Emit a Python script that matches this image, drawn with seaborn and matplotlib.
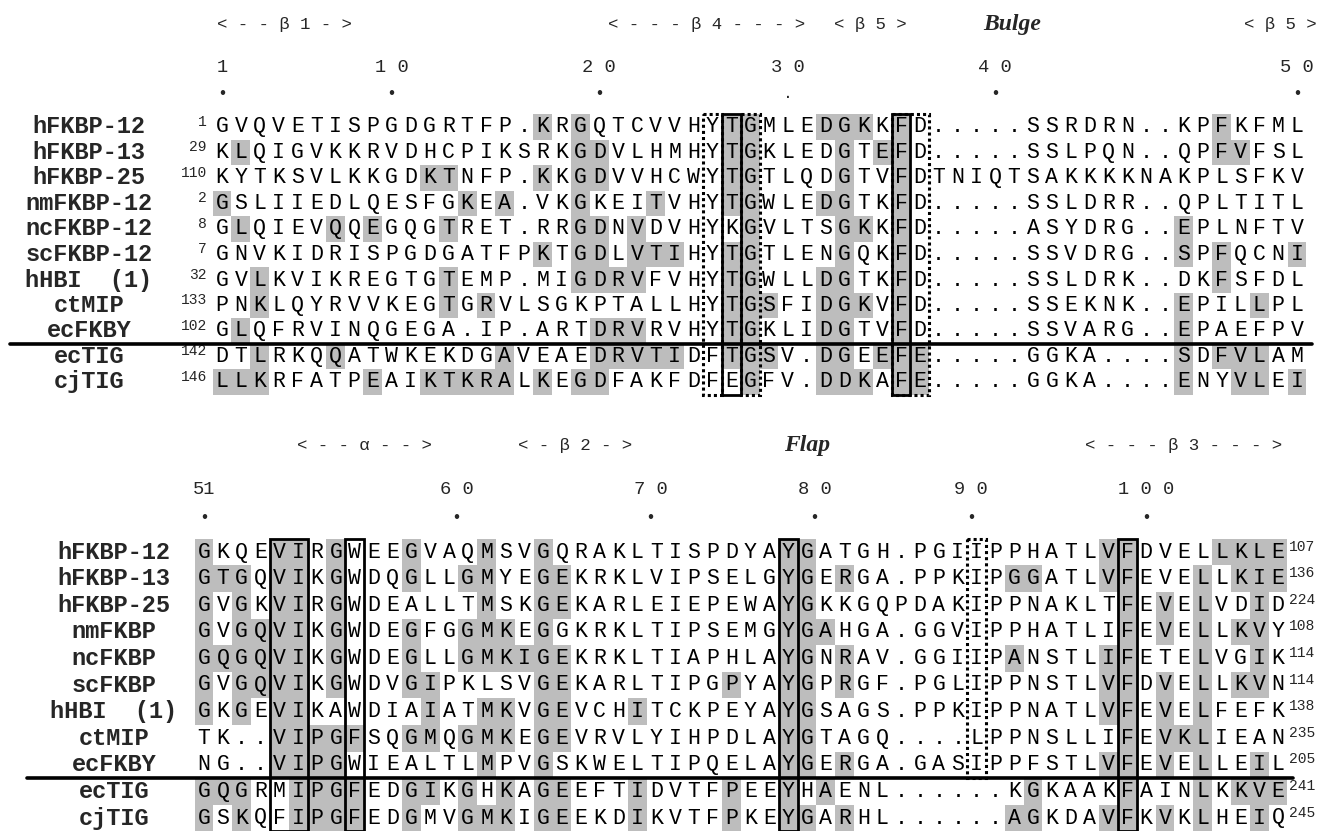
import numpy as np
import matplotlib
matplotlib.use('Agg')
import matplotlib.pyplot as plt
import seaborn as sns
from matplotlib.colors import ListedColormap
from matplotlib.patches import Rectangle

# ---- top block (residues 1-50 of hFKBP-12) ----
names_top = ['hFKBP-12', 'hFKBP-13', 'hFKBP-25', 'nmFKBP-12', 'ncFKBP-12', 'scFKBP-12',
             'hHBI  (1)', 'ctMIP', 'ecFKBY', 'ecTIG', 'cjTIG']
starts_top = ['1', '29', '110', '2', '8', '7', '32', '133', '102', '142', '146']
seqs_top = [
    'GVQVETISPGDGRTFP.KRGQTCVVHYTGMLEDGKKFD.....SSRDRN..KPFKFML',
    'KLQIGVKKRVDHCPIKSRKGDVLHMHYTGKLEDGTEFD.....SSLPQN..QPFVFSL',
    'KYTKSVLKKGDKTNFP.KKGDVVHCWYTGTLQDGTVFDTNIQTSAKKKKNAKPLSFKV',
    'GSLIIEDLQESFGKEA.VKGKEITVHYTGWLEDGTKFD.....SSLDRR..QPLTITL',
    'GLQIEVQQEGQGTRET.RRGDNVDVHYKGVLTSGKKFD.....ASYDRG..EPLNFTV',
    'GNVKIDRISPGDGATFPKTGDLVTIHYTGTLENGQKFD.....SSVDRG..SPFQCNI',
    'GVLKVIKREGTGTEMP.MIGDRVFVHYTGWLLDGTKFD.....SSLDRK..DKFSFDL',
    'PNKLQYRVVKEGTGRVLSGKPTALLHYTGSFIDGKVFD.....SSEKNK..EPILLPL',
    'GLQFRVINQGEGA.IP.ARTDRVRVHYTGKLIDGTVFD.....SSVARG..EPAEFPV',
    'DTLRKQQATWKEKDGAVEAEDRVTIDFTGSV.DGEEFE.....GGKA....SDFVLAM',
    'LLKRFATPEAIKTKRALKEGDFAKFDFEGFV.DDKAFE.....GGKA....ENYVLEI',
]
shade_top = [
    [18, 20, 28, 29, 33, 34, 35, 37, 54],
    [2, 20, 21, 28, 29, 34, 36, 37, 54, 55],
    [12, 13, 18, 20, 21, 28, 29, 34, 37],
    [1, 14, 16, 20, 24, 28, 29, 33, 34, 37],
    [2, 7, 9, 13, 20, 21, 23, 29, 34, 35, 37, 52],
    [18, 20, 21, 23, 24, 25, 28, 29, 34, 37, 52, 54, 58],
    [3, 13, 20, 21, 22, 23, 28, 29, 33, 34, 37, 54],
    [3, 13, 15, 28, 29, 30, 33, 34, 35, 37, 52, 56],
    [2, 21, 22, 23, 28, 29, 33, 34, 37, 52],
    [3, 7, 16, 21, 22, 23, 24, 25, 28, 29, 30, 33, 34, 36, 37, 38, 52, 54, 55, 56],
    [1, 2, 3, 9, 12, 13, 14, 15, 16, 18, 20, 21, 29, 33, 34, 35, 37, 38, 52, 55, 56, 58],
]
# boxed alignment columns: (first col, last col, first row, last row, style)
boxes_top = [(27, 27, 1, 11, 'dot'), (28, 28, 1, 11, 'solid'), (29, 29, 1, 11, 'dot'),
             (37, 37, 1, 11, 'solid'), (37, 38, 1, 11, 'dot')]
ss_top = ['< - - β 1 - >', '< - - - β 4 - - - >', '< β 5 >', 'Bulge', '< β 5 >']
ss_top_col = [4.3, 26.7, 35.4, 42.9, 57.1]
num_top = ['1', '1 0', '2 0', '3 0', '4 0', '5 0']
num_top_col = [1, 10, 21, 31, 42, 58]
dot_top = ['•', '•', '•', '.', '•', '•']

# ---- bottom block (residues 51-107 of hFKBP-12) ----
names_bot = ['hFKBP-12', 'hFKBP-13', 'hFKBP-25', 'nmFKBP', 'ncFKBP', 'scFKBP',
             'hHBI  (1)', 'ctMIP', 'ecFKBY', 'ecTIG', 'cjTIG']
ends_bot = ['107', '136', '224', '108', '114', '114', '138', '235', '205', '241', '245']
seqs_bot = [
    'GKQEVIRGWEEGVAQMSVGQRAKLTISPDYAYGATGH.PGIIPPHATLVFDVELLKLE',
    'GTGQVIKGWDQGLLGMYEGEKRKLVIPSELGYGERGA.PPKIPGGATLVFEVELLKIE',
    'GVGKVIRGWDEALLTMSKGEKARLEIEPEWAYGKKGQPDAKIPPNAKLTFEVELVDID',
    'GVGQVIKGWDEGFGGMKEGGKRKLTIPSEMGYGAHGA.GGVIPPHATLIFEVELLKVY',
    'GQGQVIKGWDEGLLGMKIGEKRKLTIAPHLAYGNRAV.GGIIPANSTLIFETELVGIK',
    'GVGQVIKGWDVGIPKLSVGEKARLTIPGPYAYGPRGF.PGLIPPNSTLVFDVELLKVN',
    'GKGEVIKAWDIAIATMKVGEVCHITCKPEYAYGSAGS.PPKIPPNATLVFEVELFEFK',
    'TK..VIPGFSQGMQGMKEGEVRVLYIHPDLAYGTAGQ....LPPNSLLIFEVKLIEAN',
    'NG..VIPGWIEALTLMPVGSKWELTIPQELAYGERGA.GASIPPFSTLVFEVELLEIL',
    'GQGRMIPGFEDGIKGHKAGEEFTIDVTFPEEYHAENL......KGKAAKFAINLKKVE',
    'GSKQFIPGFEDGMVGMKIGEEKDIKVTFPKEYGARHL......AGKDAVFKVKLHEIQ',
]
shade_bot = [
    [1, 5, 6, 8, 12, 16, 19, 32, 33, 49, 50, 55, 56, 57, 58],
    [1, 2, 3, 5, 6, 8, 12, 15, 16, 19, 20, 32, 33, 35, 44, 45, 49, 50, 54, 56, 57, 58],
    [1, 3, 5, 6, 8, 16, 19, 20, 32, 33, 50, 52, 54, 57],
    [1, 3, 4, 5, 6, 8, 12, 15, 16, 17, 19, 32, 33, 34, 50, 52, 54, 56, 57],
    [1, 2, 3, 4, 5, 6, 8, 12, 15, 16, 17, 18, 19, 20, 32, 33, 35, 44, 49, 50, 54, 57],
    [1, 3, 4, 5, 6, 8, 12, 13, 19, 20, 29, 32, 33, 35, 49, 50, 52, 54, 56, 57],
    [1, 3, 5, 6, 13, 16, 17, 19, 20, 24, 32, 33, 49, 50, 52, 54],
    [5, 6, 7, 8, 9, 12, 13, 15, 16, 17, 19, 20, 32, 33, 50, 52, 53, 54],
    [5, 6, 7, 8, 16, 19, 32, 33, 35, 49, 50, 52, 54, 57],
    [1, 2, 3, 6, 7, 8, 9, 12, 13, 15, 17, 19, 20, 24, 29, 32, 34, 45, 50, 54, 56, 57, 58],
    [1, 3, 6, 7, 8, 9, 12, 15, 16, 17, 19, 20, 24, 29, 32, 33, 35, 44, 45, 49, 50, 52, 54, 57],
]
boxes_bot = [(5, 6, 1, 11, 'solid'), (9, 9, 1, 11, 'solid'), (32, 32, 1, 11, 'solid'),
             (42, 42, 1, 9, 'dot'), (50, 50, 1, 11, 'solid')]
ss_bot = ['< - - α - - >', '< - β 2 - >', 'Flap', '< - - - β 3 - - - >']
ss_bot_col = [9.5, 20.7, 33.0, 53.0]
num_bot = ['51', '6 0', '7 0', '8 0', '9 0', '1 0 0']
num_bot_col = [1, 14.4, 24.7, 33.4, 41.7, 51]

sns.set_style('white')
plt.rcParams['font.family'] = ['Liberation Mono', 'DejaVu Sans']

W, H = 1327, 831
fig = plt.figure(figsize=(W / 100, H / 100), dpi=100)
cmap = ListedColormap(['white', '#bdbdbd'])
SEQ_FS = 15.5


def draw_block(ax, names, seqs, shade, boxes, name_x, side_labels, side_x, side_ha,
               ss, ss_col, nums, nums_col, dots, line_left):
    nrow, ncol = len(seqs), len(seqs[0])
    mat = np.zeros((nrow, ncol))
    for i, cols in enumerate(shade):
        for c in cols:
            mat[i, c - 1] = 1
    sns.heatmap(mat, ax=ax, cmap=cmap, vmin=0, vmax=1, cbar=False,
                xticklabels=False, yticklabels=False)
    for i, s in enumerate(seqs):
        for j, ch in enumerate(s):
            ax.text(j + 0.5, i + 0.5, ch, ha='center', va='center', fontsize=SEQ_FS,
                    color='black')
        ax.text(name_x, i + 0.5, names[i], ha='center', va='center', fontsize=17,
                fontweight='bold')
        ax.text(side_x, i + 0.3, side_labels[i], ha=side_ha, va='center', fontsize=10.5)
    for c0, c1, r0, r1, st in boxes:
        if st == 'dot':
            ls, lw = (0, (1, 1)), 2.2
        else:
            ls, lw = '-', 2.0
        ax.add_patch(Rectangle((c0 - 1, r0 - 1), c1 - c0 + 1, r1 - r0 + 1, fill=False,
                               ec='black', lw=lw, ls=ls, clip_on=False, zorder=5))
    ax.plot([line_left, ncol + 0.3], [nrow - 2, nrow - 2], color='black', lw=2.6,
            clip_on=False, zorder=6)
    for lab, c in zip(ss, ss_col):
        if lab in ('Bulge', 'Flap'):
            ax.text(c - 0.5, -3.5, lab, ha='center', va='center', fontsize=17,
                    family='Liberation Serif', style='italic', fontweight='bold')
        else:
            ax.text(c - 0.5, -3.5, lab, ha='center', va='center', fontsize=12.5)
    for lab, c, d in zip(nums, nums_col, dots):
        ax.text(c - 0.5, -1.85, lab, ha='center', va='center', fontsize=13.5)
        ax.text(c - 0.5, -0.8, d, ha='center', va='center', fontsize=12)
    ax.set_xlim(0, ncol)
    ax.set_ylim(nrow, 0)


def px_axes(x0, x1, y0, y1):
    return fig.add_axes([x0 / W, 1 - y1 / H, (x1 - x0) / W, (y1 - y0) / H])


# top block: column 1 centred at x=222, column 58 at x=1297; rows from y=127 to y=382
step = (1297 - 222) / 57
ax_top = px_axes(222 - step / 2, 1297 + step / 2, 127 - 12.75, 382 + 12.75)
draw_block(ax_top, names_top, seqs_top, shade_top, boxes_top,
           name_x=(89 - 212.6) / step, side_labels=starts_top, side_x=-0.3, side_ha='right',
           ss=ss_top, ss_col=ss_top_col, nums=num_top, nums_col=num_top_col,
           dots=dot_top, line_left=(10 - 212.6) / step)

# bottom block: column 1 at x=204, rows from y=552 to y=818
ax_bot = px_axes(204 - step / 2, 1278 + step / 2, 552 - 13.3, 818 + 13.3)
draw_block(ax_bot, names_bot, seqs_bot, shade_bot, boxes_bot,
           name_x=(114 - 194.6) / step, side_labels=ends_bot, side_x=58.1, side_ha='left',
           ss=ss_bot, ss_col=ss_bot_col, nums=num_bot, nums_col=num_bot_col,
           dots=['•'] * 6, line_left=(27 - 194.6) / step)

fig.savefig('out.png', dpi=100)
